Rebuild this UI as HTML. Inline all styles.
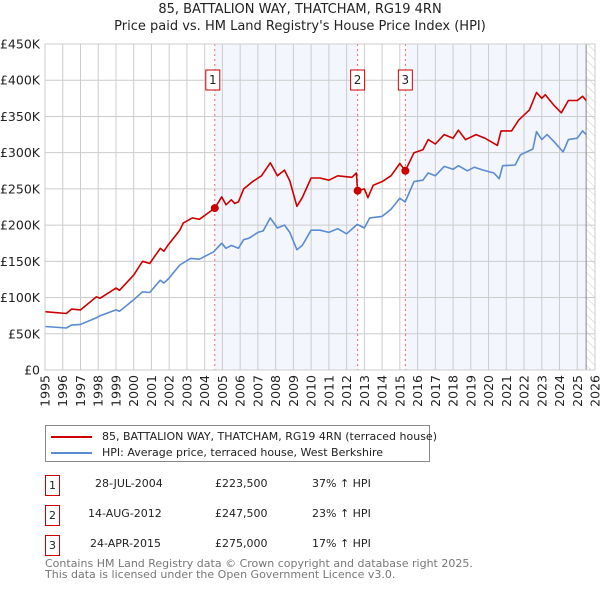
<!DOCTYPE html>
<html><head><meta charset="utf-8"><style>
body{margin:0;background:#fff;}
svg{display:block;font-family:"DejaVu Sans","Liberation Sans",sans-serif;}
</style></head><body>
<svg id="c" width="600" height="590" xmlns="http://www.w3.org/2000/svg"></svg>
<script>
const hpiX=[1995,1996.2,1996.5,1997,1997.9,1998.1,1999,1999.2,2000,2000.5,2000.9,2001.5,2001.7,2002,2002.6,2003.2,2003.7,2004.5,2004.96,2005.2,2005.5,2005.9,2006.2,2006.5,2007,2007.3,2007.7,2008.1,2008.5,2008.8,2009.2,2009.5,2010,2010.5,2011,2011.5,2012,2012.6,2013,2013.3,2014,2014.5,2015,2015.3,2015.8,2016.3,2016.6,2017,2017.5,2018,2018.3,2018.8,2019.2,2019.7,2020.3,2020.6,2020.8,2021.5,2021.8,2022.5,2022.7,2023,2023.3,2023.7,2024.2,2024.5,2025,2025.3,2025.5];
const hpiV=[60,58,62,63,72,75,83,81,97,108,107,124,120,127,145,154,153,163,175,168,172,168,180,182,190,192,210,196,200,190,166,172,193,193,190,195,188,201,196,210,212,222,237,232,260,262,272,268,281,277,282,275,280,276,272,264,282,283,297,305,329,318,325,315,301,318,320,330,325];
const ppX=[1995,1996.2,1996.5,1997,1997.9,1998.1,1999,1999.2,2000,2000.5,2000.9,2001.5,2001.7,2001.95,2002.6,2002.8,2003.3,2003.7,2004.57,2004.96,2005.2,2005.5,2005.7,2005.9,2006.2,2006.7,2007.2,2007.7,2008.1,2008.5,2008.8,2009.2,2009.5,2010,2010.5,2011,2011.5,2012.3,2012.55,2012.62,2013,2013.2,2013.5,2014,2014.5,2015,2015.31,2015.8,2016.3,2016.6,2017,2017.5,2018,2018.3,2018.7,2019.3,2019.8,2020.5,2020.7,2021.3,2021.7,2022.3,2022.7,2023,2023.2,2023.7,2024.1,2024.5,2025,2025.3,2025.5];
const ppV=[80.5,78,84,83,101,99,113,110,131,150,147,168,164,173,193,203,210,208,223.5,239,228,235,230,232,250,260,268,286,268,276,261,226,238,265,265,262,268,266,272,247.5,250,238,255,260,268,285,275,300,304,318,312,325,320,331,318,325,320,310,330,330,345,359,383,375,380,365,355,372,372,378,372];
const saleX=[2004.57,2012.62,2015.31];
const saleV=[223.5,247.5,275];
const yTicks=[0,50,100,150,200,250,300,350,400,450];
const yLabels=["£0","£50K","£100K","£150K","£200K","£250K","£300K","£350K","£400K","£450K"];
const years=[];for(let y=1995;y<=2026;y++)years.push(y);

const X0=45,X1=595,Y0=370,Y1=44;
const sx=t=>X0+(t-1995)*(X1-X0)/31;
const sy=v=>Y0-v*(Y0-Y1)/450;
const svg=document.getElementById('c');
const NS="http://www.w3.org/2000/svg";
function el(tag,attrs,parent){const e=document.createElementNS(NS,tag);for(const k in attrs)e.setAttribute(k,attrs[k]);(parent||svg).appendChild(e);return e;}

let s1=el('rect',{x:sx(saleX[0]),y:Y1,width:sx(saleX[1])-sx(saleX[0]),height:Y0-Y1,fill:'#eef2fc',opacity:0.7});


let s2=el('rect',{x:sx(saleX[2]),y:Y1,width:sx(2025.5)-sx(saleX[2]),height:Y0-Y1,fill:'#eef2fc',opacity:0.7});


const defs=el('defs',{});
const pat=el('pattern',{id:'h',width:6,height:6,patternUnits:'userSpaceOnUse',patternTransform:'rotate(-45)'},defs);
el('line',{x1:0,y1:0,x2:0,y2:6,stroke:'#ccc','stroke-width':1},pat);
let hr=el('rect',{x:sx(2025.5),y:Y1,width:X1-sx(2025.5),height:Y0-Y1,fill:'url(#h)'});



yTicks.forEach((v,i)=>{
  const g=el('line',{x1:X0,x2:X1,y1:sy(v),y2:sy(v),stroke:'#ccc','stroke-width':1});
  
  
  const t=el('text',{x:40,y:sy(v)+4.5,'text-anchor':'end','font-size':12.5,fill:'#222'});
  t.textContent=yLabels[i];
  
  
});
years.forEach(y=>{
  const g=el('line',{x1:sx(y),x2:sx(y),y1:Y1,y2:Y0,stroke:'#ccc','stroke-width':1});
  
  
  const t=el('text',{transform:`translate(${sx(y)+4.5},375) rotate(-90)`,'text-anchor':'end','font-size':12.5,fill:'#222'});
  t.textContent=y;
  
  
});
let vl=el('line',{x1:sx(2025.5),x2:sx(2025.5),y1:Y1,y2:Y0,stroke:'#888','stroke-width':1});



saleX.forEach((t,i)=>{
  const l=el('line',{x1:sx(t),x2:sx(t),y1:Y1,y2:Y0,stroke:'#e66','stroke-width':1,'stroke-dasharray':'2,3'});
  
  
  const b=el('rect',{x:sx(t)-7-(i==0?2:0),y:70,width:14,height:20,fill:'#fff',stroke:'#c00','stroke-width':1});
  
  
  const tx=el('text',{x:sx(t)-(i==0?2:0),y:84,'text-anchor':'middle','font-size':12,fill:'#222'});
  tx.textContent=String(i+1);
  
  
});

function path(xs,vs,col,name){
  const d=xs.map((t,i)=>(i?'L':'M')+sx(t).toFixed(1)+','+sy(vs[i]).toFixed(1)).join('');
  const p=el('path',{d:d,fill:'none',stroke:col,'stroke-width':1.6,'stroke-linejoin':'round'});
  
  
}
path(hpiX,hpiV,'#5b8bd0','hpi-line');
path(ppX,ppV,'#cc0000','price-paid-line');
saleX.forEach((t,i)=>{
  const c=el('circle',{cx:sx(t),cy:sy(saleV[i]),r:4,fill:'#cc0000'});
  
  
});
let fr=el('rect',{x:X0,y:Y1,width:X1-X0,height:Y0-Y1,fill:'none',stroke:'#ccc'});


</script>
<div style="position:absolute;left:0;top:0;width:600px;font-family:'DejaVu Sans','Liberation Sans',sans-serif;">
<div style="position:absolute;top:1px;width:600px;text-align:center;font-size:13px;line-height:17px;color:#222;">85, BATTALION WAY, THATCHAM, RG19 4RN<br>Price paid vs. HM Land Registry's House Price Index (HPI)</div>
<div style="position:absolute;left:45px;top:425px;width:383px;height:35px;border:1px solid #888;font-size:11px;color:#222;">
 <div style="position:absolute;left:5px;top:4px;white-space:nowrap;"><span style="display:inline-block;width:41px;height:2px;background:#cc0000;vertical-align:middle;margin-right:10px;"></span>85, BATTALION WAY, THATCHAM, RG19 4RN (terraced house)</div>
 <div style="position:absolute;left:5px;top:20px;white-space:nowrap;"><span style="display:inline-block;width:41px;height:2px;background:#5b8bd0;vertical-align:middle;margin-right:10px;"></span>HPI: Average price, terraced house, West Berkshire</div>
</div>
<div style="font-size:11px;color:#222;">
 <div><div style="position:absolute;left:45px;top:475px;width:13px;height:19px;border:1px solid #c00;text-align:center;line-height:19px;">1</div><div style="position:absolute;left:95px;top:477px;">28-JUL-2004</div><div style="position:absolute;left:215px;top:477px;">£223,500</div><div style="position:absolute;left:312px;top:477px;">37% ↑ HPI</div></div>
 <div><div style="position:absolute;left:45px;top:505px;width:13px;height:19px;border:1px solid #c00;text-align:center;line-height:19px;">2</div><div style="position:absolute;left:88px;top:507px;">14-AUG-2012</div><div style="position:absolute;left:215px;top:507px;">£247,500</div><div style="position:absolute;left:312px;top:507px;">23% ↑ HPI</div></div>
 <div><div style="position:absolute;left:45px;top:535px;width:13px;height:19px;border:1px solid #c00;text-align:center;line-height:19px;">3</div><div style="position:absolute;left:90px;top:537px;">24-APR-2015</div><div style="position:absolute;left:215px;top:537px;">£275,000</div><div style="position:absolute;left:312px;top:537px;">17% ↑ HPI</div></div>
</div>
<div style="position:absolute;left:45px;top:559px;font-size:11px;line-height:10.5px;color:#777;white-space:nowrap;">Contains HM Land Registry data © Crown copyright and database right 2025.<br>This data is licensed under the Open Government Licence v3.0.</div>
</div>
</body></html>
